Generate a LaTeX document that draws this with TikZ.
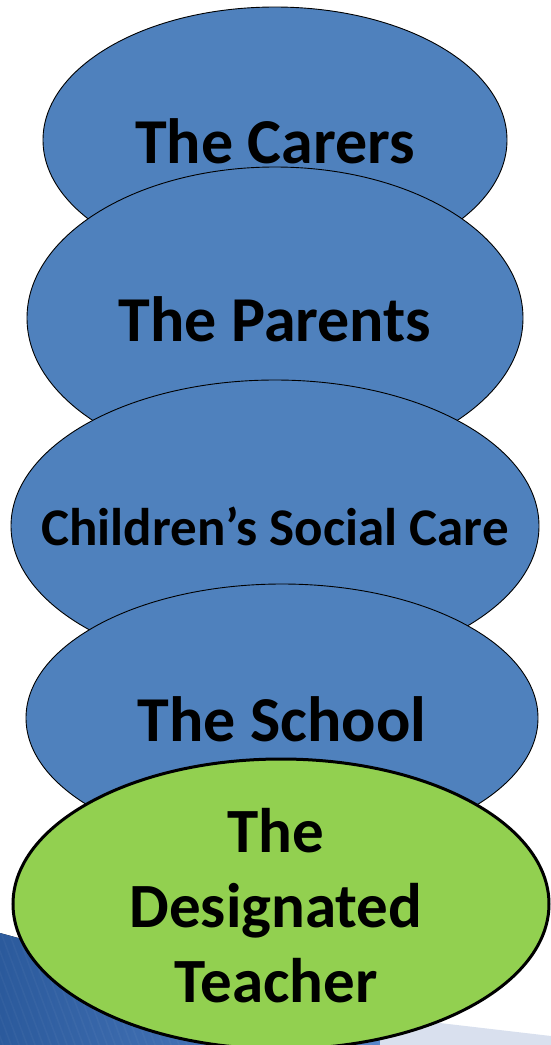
\documentclass[tikz,border=0pt]{standalone}
\usepackage{fontspec}
\setmainfont{Carlito}
\usetikzlibrary{shapes.geometric}

\definecolor{ovalblue}{HTML}{4F81BD}
\definecolor{ovalgreen}{HTML}{92D050}
\definecolor{swooshdark}{HTML}{2B5A9C}
\definecolor{swooshlight}{HTML}{5E8DD2}
\definecolor{bandgrey}{HTML}{D9E0EE}

\begin{document}
\begin{tikzpicture}[x=1pt,y=-1pt,
blueoval/.style={ellipse, draw=black, line width=0.9pt, fill=ovalblue, inner sep=0pt},
greenoval/.style={ellipse, draw=black, line width=3pt, fill=ovalgreen, inner sep=0pt},
ovaltext/.style={inner sep=0pt, yshift=-2.5pt, font=\bfseries\fontsize{64}{77}\selectfont, text height=41pt, text depth=0pt},
smalltext/.style={ovaltext, font=\bfseries\fontsize{53}{64}\selectfont, text height=34pt},
stacktext/.style={inner sep=0pt, align=center, font=\bfseries\fontsize{63}{75}\selectfont}
]
\useasboundingbox (0,0) rectangle (551,1045);

% corner swoosh of the slide
\begin{scope}
\clip (0,0) rectangle (551,1045);
\begin{scope}
\clip (0,933) -- (430,1050) -- (0,1050) -- cycle;
\fill[left color=swooshdark, right color=swooshlight] (0,930) rectangle (430,1050);
\foreach \x in {-40,-32,...,440}
  \draw[white, opacity=0.035, line width=1.5pt] (\x,930) -- (\x+45,1050);
\end{scope}
\fill[bandgrey] (380,1016) -- (551,1036) -- (551,1050) -- (380,1050) -- cycle;
\end{scope}

\node[blueoval, minimum width=464pt, minimum height=266pt] (carers) at (275,140) {};
\node[ovaltext] (carerslabel) at (carers) {The Carers};

\node[blueoval, minimum width=496pt, minimum height=302pt] (parents) at (275,318) {};
\node[ovaltext] (parentslabel) at (parents) {The Parents};

\node[blueoval, minimum width=528pt, minimum height=292pt] (social) at (275,526) {};
\node[smalltext] (sociallabel) at (social) {Children’s Social Care};

\node[blueoval, minimum width=512pt, minimum height=268pt] (school) at (282,718) {};
\node[ovaltext] (schoollabel) at (school) {The School};

\node[greenoval, minimum width=536pt, minimum height=290pt] (teacher) at (281,904) {};
\node[stacktext] (teacherlabel) at (276,906) {The\\Designated\\Teacher};
\end{tikzpicture}
\end{document}
